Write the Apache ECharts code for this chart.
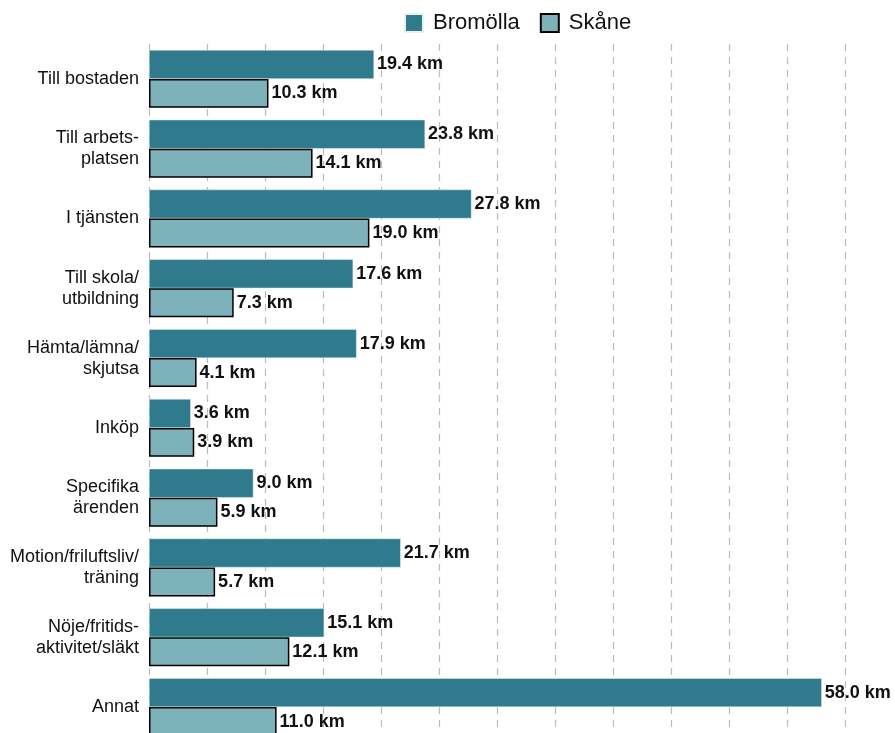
<!DOCTYPE html>
<html><head><meta charset="utf-8">
<script src="https://cdn.jsdelivr.net/npm/echarts@6/dist/echarts.min.js"></script>
<style>html,body{margin:0;padding:0;background:#fff}#c{width:895px;height:733px}</style>
</head><body><div id="c"></div>
<script>
var categories = ["Till bostaden","Till arbets-\nplatsen","I tjänsten","Till skola/\nutbildning","Hämta/lämna/\nskjutsa","Inköp","Specifika\närenden","Motion/friluftsliv/\nträning","Nöje/fritids-\naktivitet/släkt","Annat"];
var bromolla = [19.4,23.8,27.8,17.6,17.9,3.6,9.0,21.7,15.1,58.0];
var skane = [10.3,14.1,19.0,7.3,4.1,3.9,5.9,5.7,12.1,11.0];
var FF = 'Liberation Sans, Arial, sans-serif';
var chart = echarts.init(document.getElementById('c'));
var lbl = {show:true,position:'right',distance:3,fontFamily:FF,fontWeight:'bold',fontSize:18,color:'#111',formatter:function(p){return p.value.toFixed(1)+' km';}};
chart.setOption({
  animation:false,
  textStyle:{fontFamily:FF},
  legend:{top:7,left:399,icon:'rect',itemWidth:18,itemHeight:18,itemGap:20,textStyle:{fontSize:22,color:'#111',fontFamily:FF,padding:[0,0,0,5]},data:['Bromölla','Skåne']},
  grid:{left:149,right:50,top:44,height:698,containLabel:false,outerBoundsMode:'none'},
  xAxis:{type:'value',min:0,max:60,interval:5,axisLabel:{show:false},axisLine:{show:false},axisTick:{show:false},splitLine:{show:true,lineStyle:{type:[7,6],color:'#bbb',width:1.2}}},
  yAxis:{type:'category',inverse:true,data:categories,axisLine:{show:false},axisTick:{show:false},axisLabel:{fontSize:18,color:'#111',fontFamily:FF,lineHeight:21,margin:10,align:'right'}},
  series:[
    {name:'Bromölla',type:'bar',data:bromolla,barGap:'0%',barCategoryGap:'17%',itemStyle:{color:'#2F7B8D',borderColor:'#e8f0f2',borderWidth:0.5},label:lbl},
    {name:'Skåne',type:'bar',data:skane,itemStyle:{color:'#7EB2BB',borderColor:'#000',borderWidth:1.5},label:lbl}
  ]
});
</script></body></html>
